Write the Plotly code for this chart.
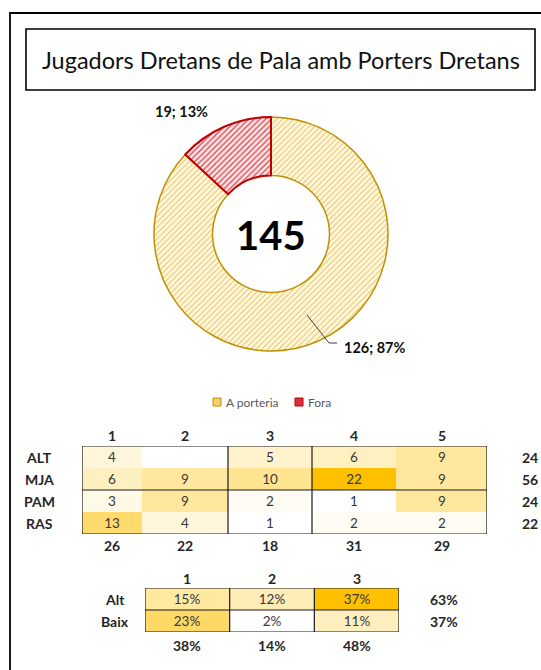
import plotly.graph_objects as go

# ---------------- data ----------------
title_text = "Jugadors Dretans de Pala amb Porters Dretans"

shot_labels = ["A porteria", "Fora"]
shot_values = [126, 19]

zone_cols = ["1", "2", "3", "4", "5"]
keepers = ["ALT", "MJA", "PAM", "RAS"]
zone_counts = [
    [4, None, 5, 6, 9],
    [6, 9, 10, 22, 9],
    [3, 9, 2, 1, 9],
    [13, 4, 1, 2, 2],
]

# zones grouped into 3 sectors, keepers grouped into Alt / Baix
sector_cols = ["1", "2", "3"]
sector_groups = [[0, 1], [2], [3, 4]]
height_rows = ["Alt", "Baix"]
height_groups = [[0, 1], [2, 3]]

# ---------------- layout helpers ----------------
W, H = 541, 670
FONT = "Lato"


def fx(x):
    return x / W


def fy(y):
    return 1 - y / H


annotations = []
shapes = []


def label(text, x, y, xref="paper", yref="paper", xanchor="center", font=None):
    annotations.append(dict(x=x, y=y, xref=xref, yref=yref, text=text,
                            showarrow=False, xanchor=xanchor, yanchor="middle",
                            font=font))


fig = go.Figure()

# ---------------- donut ----------------
cx, cy, r = 271, 234, 117
fig.add_trace(go.Pie(
    labels=shot_labels,
    values=shot_values,
    hole=0.5,
    sort=False,
    direction="clockwise",
    rotation=0,
    textinfo="none",
    hoverinfo="skip",
    showlegend=False,
    marker=dict(
        colors=["#FFF6DA", "#FBE1E1"],
        line=dict(color=["#BF9000", "#C00000"], width=[1.5, 2]),
        pattern=dict(shape="/", fgcolor=["#EBCB6A", "#D8404C"],
                     bgcolor=["#FFF9E8", "#FBE6E6"], size=4, solidity=0.3),
    ),
    domain=dict(x=[fx(cx - r), fx(cx + r)], y=[fy(cy + r), fy(cy - r)]),
))

total_shots = sum(shot_values)
label(f"<b>{total_shots}</b>", fx(cx), fy(cy + 1),
      font=dict(family=FONT, size=40, color="#000000"))


def slice_label(v):
    return f"<b>{v}; {round(100 * v / total_shots)}%</b>"


label(slice_label(shot_values[1]), fx(181), fy(112),
      font=dict(family=FONT, size=14.5, color="#111111"))
label(slice_label(shot_values[0]), fx(342), fy(347), xanchor="left",
      font=dict(family=FONT, size=14.5, color="#111111"))
shapes.append(dict(type="path", xref="paper", yref="paper",
                   path=f"M {fx(307)} {fy(315)} L {fx(329)} {fy(343)} L {fx(337)} {fy(343)}",
                   line=dict(color="#404040", width=1)))

# legend drawn by hand so the swatches sit tight against the text
legend_items = [(shot_labels[0], 213, "#F0CF6E", "#BF9000"),
                (shot_labels[1], 295, "#D8303E", "#C00000")]
for lab, x0, fill, edge in legend_items:
    shapes.append(dict(type="rect", xref="paper", yref="paper",
                       x0=fx(x0), x1=fx(x0 + 8), y0=fy(406), y1=fy(398),
                       fillcolor=fill, line=dict(color=edge, width=1)))
    label(lab, fx(x0 + 11), fy(402), xanchor="left",
          font=dict(family=FONT, size=12, color="#595959"))

# ---------------- table 1 : counts per zone ----------------
col_widths = [60, 86, 84, 84, 91]
x_edges = [0]
for w in col_widths:
    x_edges.append(x_edges[-1] + w)
x_centers = [(a + b) / 2 for a, b in zip(x_edges[:-1], x_edges[1:])]
t1_left, t1_top, row_h = 82, 446, 22
t1_right = t1_left + x_edges[-1]
t1_bottom = t1_top + row_h * len(keepers)

value_font = dict(family=FONT, size=13.5, color="#383838")
flat = [v for row in zone_counts for v in row if v is not None]
fig.add_trace(go.Heatmap(
    z=zone_counts,
    x=x_edges,
    y=list(range(len(keepers) + 1)),
    text=[["" if v is None else str(v) for v in row] for row in zone_counts],
    texttemplate="%{text}",
    textfont=value_font,
    colorscale=[[0, "#FFFFFF"], [1, "#FFC000"]],
    zmin=min(flat), zmax=max(flat),
    showscale=False, hoverinfo="skip",
    xaxis="x2", yaxis="y2",
))

bold = dict(family=FONT, size=14, color="#262626")
for j, c in enumerate(zone_cols):
    label(f"<b>{c}</b>", x_centers[j], fy(436), xref="x2", font=bold)
    col_total = sum(row[j] or 0 for row in zone_counts)
    label(f"<b>{col_total}</b>", x_centers[j], fy(545), xref="x2", font=bold)
for i, k in enumerate(keepers):
    label(f"<b>{k}</b>", fx(39), i + 0.5, yref="y2", font=bold)
    row_total = sum(v or 0 for v in zone_counts[i])
    label(f"<b>{row_total}</b>", fx(530), i + 0.5, yref="y2", font=bold)

# frame + sector / height separators
line_k = dict(color="#1A1A1A", width=1.2)
shapes.append(dict(type="rect", xref="x2", yref="y2", x0=0, x1=x_edges[-1],
                   y0=0, y1=len(keepers), line=line_k))
for g in sector_groups[:-1]:
    xb = x_edges[g[-1] + 1]
    shapes.append(dict(type="line", xref="x2", yref="y2", x0=xb, x1=xb,
                       y0=0, y1=len(keepers), line=line_k))
for g in height_groups[:-1]:
    yb = g[-1] + 1
    shapes.append(dict(type="line", xref="x2", yref="y2", x0=0, x1=x_edges[-1],
                       y0=yb, y1=yb, line=line_k))

# ---------------- table 2 : share per sector and height ----------------
total_on = sum(flat)
sector_share = []
for hg in height_groups:
    row = []
    for sg in sector_groups:
        s = sum(zone_counts[i][j] or 0 for i in hg for j in sg)
        row.append(100 * s / total_on)
    sector_share.append(row)

t2_left, t2_right, t2_top = 145, 399, 588
share_flat = [v for row in sector_share for v in row]
fig.add_trace(go.Heatmap(
    z=sector_share,
    x=list(range(len(sector_cols) + 1)),
    y=list(range(len(height_rows) + 1)),
    text=[[f"{round(v)}%" for v in row] for row in sector_share],
    texttemplate="%{text}",
    textfont=value_font,
    colorscale=[[0, "#FFFFFF"], [1, "#FFC000"]],
    zmin=min(share_flat), zmax=max(share_flat),
    showscale=False, hoverinfo="skip",
    xaxis="x3", yaxis="y3",
))
for j, c in enumerate(sector_cols):
    label(f"<b>{c}</b>", j + 0.5, fy(578), xref="x3", font=bold)
    col_share = sum(row[j] for row in sector_share)
    label(f"<b>{round(col_share)}%</b>", j + 0.5, fy(645), xref="x3", font=bold)
for i, h in enumerate(height_rows):
    label(f"<b>{h}</b>", fx(115), i + 0.5, yref="y3", font=bold)
    label(f"<b>{round(sum(sector_share[i]))}%</b>", fx(444), i + 0.5, yref="y3",
          font=bold)
for j in range(len(sector_cols) + 1):
    shapes.append(dict(type="line", xref="x3", yref="y3", x0=j, x1=j,
                       y0=0, y1=len(height_rows), line=line_k))
for i in range(len(height_rows) + 1):
    shapes.append(dict(type="line", xref="x3", yref="y3", x0=0, x1=len(sector_cols),
                       y0=i, y1=i, line=line_k))

# ---------------- frames and title ----------------
shapes.append(dict(type="rect", xref="paper", yref="paper",
                   x0=fx(10), x1=fx(600), y0=fy(800), y1=fy(13),
                   line=dict(color="#000000", width=1.8)))
shapes.append(dict(type="rect", xref="paper", yref="paper",
                   x0=fx(26), x1=fx(535), y0=fy(90), y1=fy(29),
                   line=dict(color="#000000", width=1.6)))
label(title_text, fx(281), fy(60),
      font=dict(family=FONT, size=23.5, color="#111111"))

hidden = dict(showgrid=False, zeroline=False, showticklabels=False,
              showline=False, ticks="", fixedrange=True)
fig.update_layout(
    width=W, height=H, autosize=False,
    margin=dict(l=0, r=0, t=0, b=0),
    paper_bgcolor="#FFFFFF", plot_bgcolor="rgba(0,0,0,0)",
    showlegend=False,
    xaxis2=dict(domain=[fx(t1_left), fx(t1_right)], range=[0, x_edges[-1]],
                anchor="y2", **hidden),
    yaxis2=dict(domain=[fy(t1_bottom), fy(t1_top)], range=[len(keepers), 0],
                anchor="x2", **hidden),
    xaxis3=dict(domain=[fx(t2_left), fx(t2_right)], range=[0, len(sector_cols)],
                anchor="y3", **hidden),
    yaxis3=dict(domain=[fy(t2_top + row_h * len(height_rows)), fy(t2_top)],
                range=[len(height_rows), 0], anchor="x3", **hidden),
    shapes=shapes,
    annotations=annotations,
)

fig.write_html("out.html")
